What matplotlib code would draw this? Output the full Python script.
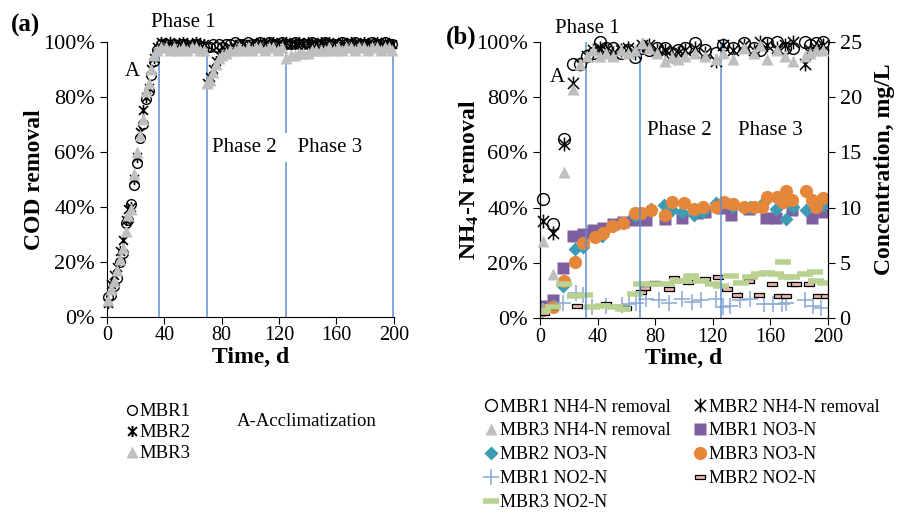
import matplotlib.pyplot as plt
from matplotlib.ticker import PercentFormatter
from matplotlib.lines import Line2D
from matplotlib.path import Path

plt.rcParams['font.family'] = ['Liberation Serif', 'DejaVu Serif']
plt.rcParams['mathtext.fontset'] = 'stix'

# ---- panel (a): COD removal, %
cod_days = [1, 3, 5, 7, 9, 11, 13, 15, 17, 19, 21, 23, 25, 27, 29, 31, 33, 35,
            38, 41, 44, 47, 50, 53, 56, 59, 62, 65, 68, 70, 72, 74, 76, 78, 80,
            83, 86, 89, 92, 95, 98, 101, 104, 107, 110, 113, 116, 119, 122, 125,
            128, 131, 134, 137, 140, 143, 146, 149, 152, 155, 158, 161, 164, 167,
            170, 173, 176, 179, 182, 185, 188, 191, 194, 197, 199]
cod_mbr1 = [7, 8, 11, 14, 20, 23, 34, 35, 41, 48, 56, 65, 70, 79, 82, 88, 93, 97,
            99, 99, 98, 99, 98, 99, 98, 98, 99, 98, 98, 98, 98, 99, 98, 99, 98,
            99, 99, 100, 99, 99, 100, 99, 99, 100, 99, 100, 99, 99, 100, 99,
            99, 100, 99, 99, 99, 100, 99, 99, 100, 99, 99, 99, 100, 99,
            99, 100, 99, 99, 99, 100, 99, 99, 100, 99, 99]
cod_mbr2 = [5, 12, 15, 18, 24, 28, 35, 39, 40, 50, 58, 67, 75, 80, 83, 90, 94, 98,
            100, 99, 100, 99, 99, 100, 99, 99, 100, 99, 99, 85, 87, 90, 93, 95, 96,
            97, 98, 98, 99, 99, 98, 99, 99, 100, 99, 99, 100, 99, 99, 100,
            99, 99, 100, 99, 100, 99, 99, 100, 99, 100, 99, 99, 100, 99,
            100, 99, 99, 100, 99, 99, 100, 99, 100, 99, 99]
cod_mbr3 = [6, 10, 13, 17, 21, 25, 31, 37, 39, 52, 60, 66, 72, 82, 85, 90, 95, 97,
            98, 98, 97, 98, 97, 98, 97, 98, 98, 97, 97, 85, 86, 89, 92, 94, 95,
            96, 97, 97, 98, 97, 98, 97, 98, 98, 97, 98, 98, 97, 98, 94,
            95, 95, 96, 96, 96, 97, 97, 97, 97, 98, 97, 98, 97, 98,
            98, 97, 98, 98, 97, 98, 98, 97, 98, 98, 97]

# ---- panel (b): NH4-N removal, %
nh4_days = [2, 9, 17, 23, 28, 33, 37, 42, 46, 51, 56, 61, 66, 71, 76, 81, 87, 92,
            96, 101, 108, 115, 122, 127, 134, 142, 149, 153, 158, 165, 170, 176,
            184, 188, 192, 197]
nh4_mbr1 = [43, 34, 65, 92, 92, 95, 96, 100, 98, 98, 96, 97, 94.5, 98, 97, 98, 98, 96,
            97, 97.7, 99.5, 97, 96, 99, 98, 99.5, 98, 97, 99.5, 100, 98, 98,
            100, 99, 99.5, 100]
nh4_mbr2 = [35, 31, 63, 85, 92, 95, 97, 98, 97, 96, 97, 98, 96, 99, 99, 97, 97, 95,
            96, 97, 98, 96, 93, 99, 97, 99, 97, 100, 99, 98, 99, 100,
            92, 97, 98, 99]
nh4_mbr3 = [28, 16, 53, 83, 92, 95, 97, 95, 96, 95, 97, 96, 97, 99.6, 98, 96, 93, 94.5,
            94, 95, 96, 95, 94, 96, 94, 98, 96, 99, 94, 97, 95, 93,
            95, 96, 97, 97]

# NO3-N, mg/L
no3_1_days = [1, 9, 16, 23, 30, 37, 44, 51, 58, 65, 74, 87, 99, 109, 115, 126, 133,
              145, 157, 164, 175, 189, 196]
no3_1 = [1.1, 1.6, 4.5, 7.4, 7.6, 8.0, 8.2, 8.5, 8.7, 8.9, 8.9, 9.0, 9.1, 9.5, 9.6,
         10.0, 9.3, 9.9, 9.1, 9.1, 9.8, 9.1, 9.6]
no3_2_days = [2, 9, 16, 24, 30, 43, 51, 66, 77, 86, 92, 99, 107, 113, 122, 134, 146,
              156, 164, 171, 176, 185, 197]
no3_2 = [0.8, 1.2, 2.9, 6.3, 6.4, 7.4, 8.3, 9.2, 9.9, 10.2, 9.8, 9.6, 9.3, 9.6, 10.4,
         10.1, 10.1, 10.5, 9.9, 9.0, 10.1, 9.8, 10.2]
no3_3_days = [2, 9, 17, 24, 30, 38, 44, 50, 58, 66, 70, 77, 87, 92, 100, 107, 113,
              122, 128, 134, 142, 149, 154, 158, 165, 169, 171, 175, 185, 189, 192, 197]
no3_3 = [0.7, 1.0, 3.4, 5.1, 6.8, 7.3, 7.7, 8.3, 8.6, 9.5, 9.5, 9.8, 9.3, 10.5, 10.4,
         9.9, 10.1, 10.1, 10.5, 10.3, 10.1, 10.1, 10.1, 11.0, 11.0, 10.5, 11.5, 10.7,
         11.5, 10.7, 10.1, 10.9]

# NO2-N, mg/L
no2_1_days = [2, 16, 25, 30, 36, 46, 57, 62, 67, 74, 83, 90, 99, 106, 112, 122, 127,
              132, 139, 146, 156, 162, 168, 171, 184, 190, 195]
no2_1 = [0.6, 1.4, 2.3, 2.1, 1.0, 1.1, 1.2, 1.3, 1.4, 1.7, 1.6, 1.4, 1.7, 1.5, 1.6,
         1.7, 1.0, 1.1, 1.6, 1.7, 1.3, 1.3, 1.3, 1.4, 1.6, 1.1, 0.9]
no2_2_days = [3, 8, 26, 46, 60, 70, 73, 80, 90, 93, 103, 115, 124, 130, 137, 145, 152,
              161, 166, 171, 175, 178, 187, 193, 199]
no2_2 = [0.5, 1.0, 1.1, 1.3, 0.9, 2.4, 2.7, 3.2, 2.6, 3.6, 3.3, 3.5, 3.7, 2.6, 2.1,
         3.4, 2.1, 3.1, 2.0, 2.0, 3.1, 3.1, 3.1, 2.0, 2.0]
no2_3_days = [2, 9, 17, 24, 31, 36, 44, 52, 58, 66, 70, 78, 88, 95, 100, 105, 112,
              120, 126, 133, 140, 146, 152, 158, 164, 169, 171, 175, 184, 191, 192, 198]
no2_3 = [0.6, 1.0, 3.1, 2.0, 2.1, 1.0, 1.1, 1.0, 0.8, 2.2, 3.1, 3.1, 3.1, 3.4, 3.4,
         3.8, 3.4, 3.1, 2.9, 3.8, 3.2, 3.7, 4.0, 4.1, 4.0, 5.1, 3.7, 3.7, 4.0, 4.2,
         3.4, 3.2]

phase_a = [36, 70, 125, 199.5]
phase_b = [32, 69.5, 126]

blue = '#5B8FD0'
gray = '#BFBFBF'
# excel-like star: an X with a vertical bar through it
star = Path([(-1, -1), (1, 1), (-1, 1), (1, -1), (0, -1.25), (0, 1.25)],
            [Path.MOVETO, Path.LINETO] * 3)
dash_box = [(-1, -0.38), (1, -0.38), (1, 0.38), (-1, 0.38), (-1, -0.38)]

fig = plt.figure(figsize=(8.99, 5.13), dpi=100)
ax1 = fig.add_axes([0.119, 0.3827, 0.319, 0.536])
ax2 = fig.add_axes([0.6007, 0.380, 0.320, 0.538])
ax3 = ax2.twinx()

# ---------- panel (a)
ax1.vlines(phase_a, 0, 96, color=blue, lw=1.1, zorder=1)
ax1.plot(cod_days, cod_mbr1, 'o', mfc='none', mec='black', ms=7, mew=1,
         clip_on=False, zorder=3)
ax1.plot(cod_days, cod_mbr2, ls='none', marker=star, mfc='none', mec='black', ms=8,
         mew=1.2, clip_on=False, zorder=3)
ax1.plot(cod_days, cod_mbr3, '^', color=gray, mec='none', ms=8,
         clip_on=False, zorder=4)
ax1.set_xlim(0, 200)
ax1.set_ylim(0, 100)
ax1.set_xticks(range(0, 201, 40))
ax1.set_yticks(range(0, 101, 20))
ax1.yaxis.set_major_formatter(PercentFormatter(100, decimals=0))
for s in ['top', 'right']:
    ax1.spines[s].set_visible(False)
ax1.tick_params(direction='out', length=5, labelsize=14.5)
ax1.tick_params(axis='x', pad=2)
ax1.tick_params(axis='y', labelsize=16)
ax1.set_ylabel('COD removal', fontsize=17, fontweight='bold')
ax1.yaxis.set_label_coords(-0.215, 0.5)
ax1.set_xlabel('Time, d', fontsize=17, fontweight='bold')
ax1.xaxis.set_label_coords(0.5, -0.11)
ax1.text(53, 107, 'Phase 1', fontsize=15, ha='center', va='center', clip_on=False)
ax1.text(96, 61.5, 'Phase 2', fontsize=15, ha='center', va='center')
ax1.text(125.3, 61.5, '  Phase 3', fontsize=15, ha='left', va='center',
         bbox=dict(boxstyle='square,pad=0.25', fc='white', ec='none'), zorder=2)
ax1.text(17.5, 89, 'A', fontsize=15, ha='center', va='center')
fig.text(0.028, 0.95, '(a)', fontsize=18, fontweight='bold', ha='center', va='center')

# ---------- panel (b)
ax2.vlines(phase_b, 0, 100, color=blue, lw=1.1, zorder=1)
h_c = ax2.plot(nh4_days, nh4_mbr1, 'o', mfc='none', mec='black', ms=8.5, mew=1,
               clip_on=False, zorder=3, label='MBR1 NH4-N removal')[0]
h_x = ax2.plot(nh4_days, nh4_mbr2, ls='none', marker=star, mfc='none', mec='black',
               ms=10, mew=1.1, clip_on=False, zorder=3, label='MBR2 NH4-N removal')[0]
h_t = ax2.plot(nh4_days, nh4_mbr3, '^', color=gray, mec='none', ms=9,
               clip_on=False, zorder=4, label='MBR3 NH4-N removal')[0]
ax2.set_xlim(0, 200)
ax2.set_ylim(0, 100)
ax2.set_xticks(range(0, 201, 40))
ax2.set_yticks(range(0, 101, 20))
ax2.yaxis.set_major_formatter(PercentFormatter(100, decimals=0))
ax2.spines['top'].set_visible(False)
ax2.tick_params(direction='out', length=5, labelsize=14.5)
ax2.tick_params(axis='x', pad=2)
ax2.tick_params(axis='y', labelsize=16)
ax2.set_ylabel(r'NH$_\mathbf{4}$-N removal', fontsize=17, fontweight='bold')
ax2.yaxis.set_label_coords(-0.205, 0.5)
ax2.set_xlabel('Time, d', fontsize=17, fontweight='bold')
ax2.xaxis.set_label_coords(0.5, -0.11)

h_s = ax3.plot(no3_1_days, no3_1, 's', color='#7F5F9F', mec='none', ms=8.5,
               label='MBR1 NO3-N')[0]
h_d = ax3.plot(no3_2_days, no3_2, 'D', color='#3C9CB4', mec='none', ms=7,
               label='MBR2 NO3-N')[0]
h_o = ax3.plot(no3_3_days, no3_3, 'o', color='#E5873A', mec='none', ms=9.5,
               label='MBR3 NO3-N')[0]
h_p = ax3.plot(no2_1_days, no2_1, '+', color='#93AED6', ms=12, mew=1.2,
               label='MBR1 NO2-N')[0]
h_r = ax3.plot(no2_2_days, no2_2, ls='none', marker=dash_box, mfc='#EBB5B0',
               mec='black', ms=7, mew=0.9, label='MBR2 NO2-N')[0]
h_g = ax3.plot(no2_3_days, no2_3, '_', color='#B9D292', ms=12, mew=4,
               label='MBR3 NO2-N')[0]
ax3.set_ylim(0, 25)
ax3.set_yticks(range(0, 26, 5))
ax3.spines['top'].set_visible(False)
ax3.tick_params(direction='out', length=5, labelsize=16)
ax3.set_ylabel('Concentration, mg/L', fontsize=17, fontweight='bold')
ax3.yaxis.set_label_coords(1.16, 0.54)

ax2.set_zorder(ax3.get_zorder() + 1)
ax2.patch.set_visible(False)

ax2.text(33, 105, 'Phase 1', fontsize=15, ha='center', va='center', clip_on=False)
ax2.text(97, 68, 'Phase 2', fontsize=15, ha='center', va='center')
ax2.text(160, 68, 'Phase 3', fontsize=15, ha='center', va='center')
ax2.text(12, 87, 'A', fontsize=15, ha='center', va='center')
fig.text(0.513, 0.928, '(b)', fontsize=18, fontweight='bold', ha='center', va='center')

# ---------- legends
h1 = [Line2D([], [], ls='none', marker='o', mfc='none', mec='black', ms=7, mew=1),
      Line2D([], [], ls='none', marker=star, mfc='none', mec='black', ms=8, mew=1.4),
      Line2D([], [], ls='none', marker='^', color=gray, mec='none', ms=8)]
fig.legend(h1, ['MBR1', 'MBR2', 'MBR3'], loc='upper left',
           bbox_to_anchor=(0.141, 0.214), frameon=False, fontsize=13.5,
           handlelength=0.6, handletextpad=0.1, labelspacing=0.2,
           borderpad=0, borderaxespad=0)
fig.text(0.263, 0.179, 'A-Acclimatization', fontsize=13.5, ha='left', va='center')

order = [h_c, h_t, h_d, h_p, h_g, h_x, h_s, h_o, h_r]
fig.legend(order, [h.get_label() for h in order], loc='upper left', ncol=2,
           bbox_to_anchor=(0.539, 0.223), frameon=False, fontsize=13,
           handlelength=0.7, handletextpad=0.15, labelspacing=0.38,
           columnspacing=1.3, borderpad=0, borderaxespad=0)

fig.savefig('out.png', dpi=100)
